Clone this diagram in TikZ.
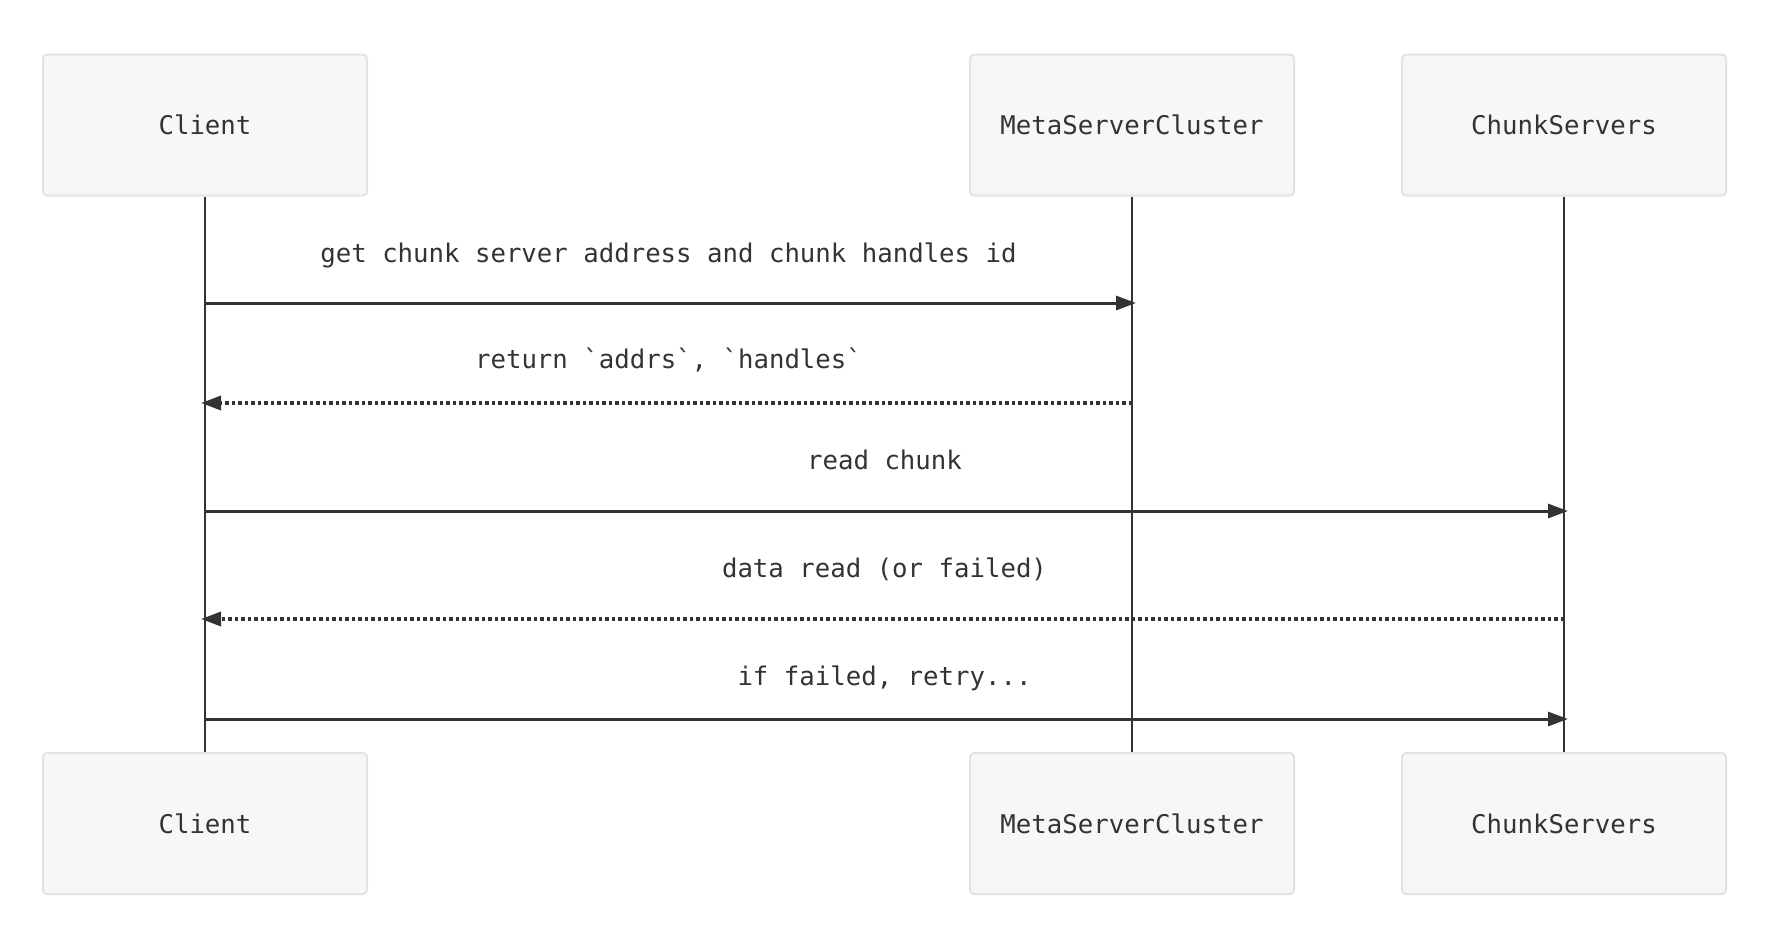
\documentclass[tikz,border=0pt]{standalone}
\usepackage{fontspec}
\newfontfamily\seqfont{DejaVu Sans Mono}
\usetikzlibrary{arrows.meta}
\definecolor{actorfill}{HTML}{F6F7F9}
\definecolor{actorline}{HTML}{E1E3E7}
\definecolor{seqline}{HTML}{333333}
\begin{document}
\begin{tikzpicture}[x=1pt, y=-1pt,
    actor/.style={draw=actorline, line width=2pt, fill=actorfill, rounded corners=4pt,
      minimum width=324pt, minimum height=141pt, inner sep=0pt,
      font=\seqfont\fontsize{25.7}{30}\selectfont, text=seqline},
    lifeline/.style={draw=seqline, line width=2.2pt},
    msg/.style={draw=seqline, line width=3pt, -{Triangle[length=20pt,width=14pt]}, shorten >=-4pt},
    reply/.style={msg, line width=3.4pt, dash pattern=on 3.5pt off 3pt},
    msglabel/.style={midway, anchor=base, inner sep=0pt,
      font=\seqfont\fontsize{25.7}{30}\selectfont, text=seqline}]
      \useasboundingbox (0,0) rectangle (1772,932);
      % actors, top and bottom
      \node[actor] (cl) at (205,125){Client};
      \node[actor] (ms) at (1132,125){MetaServerCluster};
      \node[actor] (cs) at (1564,125){ChunkServers};
      \node[actor] (clb) at (205,823.5){Client};
      \node[actor] (msb) at (1132,823.5){MetaServerCluster};
      \node[actor] (csb) at (1564,823.5){ChunkServers};
      \draw[lifeline](cl) -- (clb);
      \draw[lifeline](ms) -- (msb);
      \draw[lifeline](cs) -- (csb);
      % message ends on the lifelines
      \coordinate (cl1) at (205,303);
      \coordinate (ms1) at (1132,303);
      \coordinate (cl2) at (205,403);
      \coordinate (ms2) at (1132,403);
      \coordinate (cl3) at (205,511);
      \coordinate (cs3) at (1564,511);
      \coordinate (cl4) at (205,619);
      \coordinate (cs4) at (1564,619);
      \coordinate (cl5) at (205,719);
      \coordinate (cs5) at (1564,719);
      \draw[msg](cl1) -- (ms1) node[msglabel, yshift=41pt]{get chunk server address and chunk handles id};
      \draw[reply](ms2) -- (cl2) node[msglabel, yshift=35pt]{return \textasciigrave addrs\textasciigrave, \textasciigrave handles\textasciigrave};
      \draw[msg](cl3) -- (cs3) node[msglabel, yshift=42pt]{read chunk};
      \draw[reply](cs4) -- (cl4) node[msglabel, yshift=42pt]{data read (or failed)};
      \draw[msg](cl5) -- (cs5) node[msglabel, yshift=34pt]{if failed, retry...};
    \end{tikzpicture}
\end{document}
